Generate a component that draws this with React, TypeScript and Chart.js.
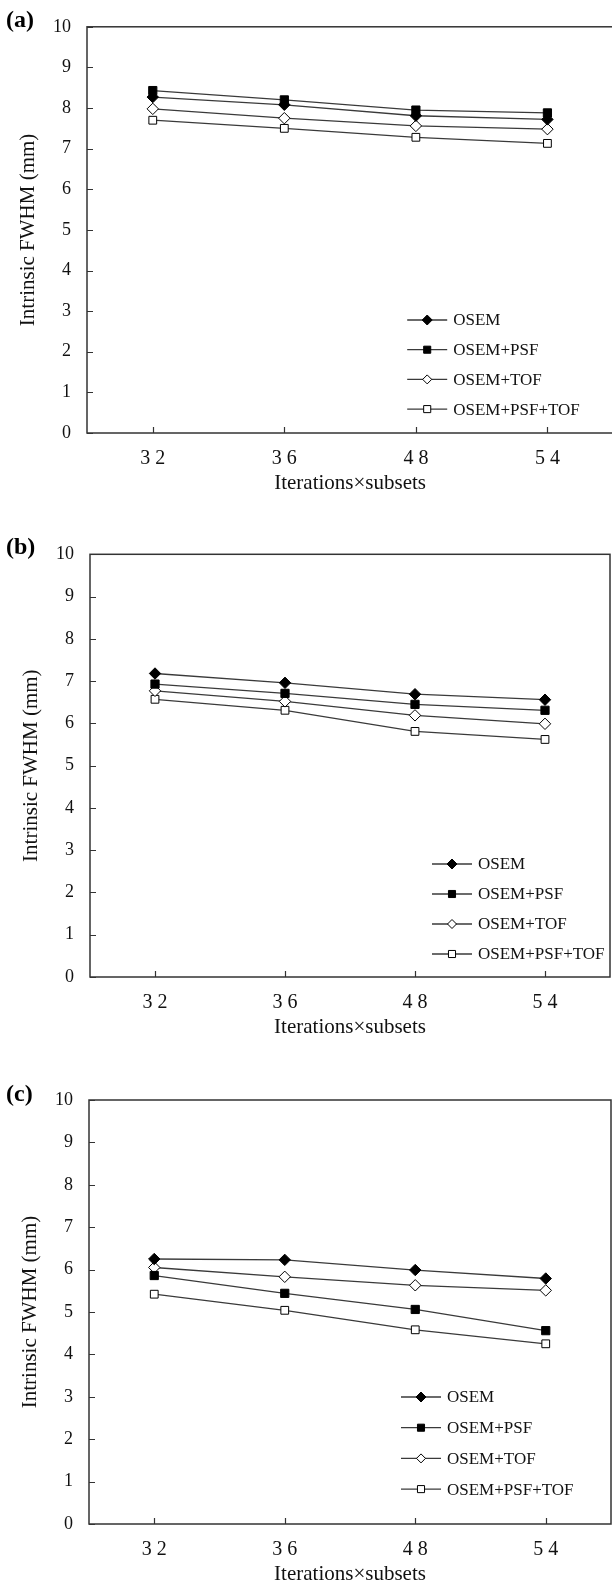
import React, { useEffect, useRef } from 'react';
import { Chart, registerables } from 'chart.js';

Chart.register(...registerables);

const categories = ['32', '36', '48', '54'];
const seriesNames = ['OSEM', 'OSEM+PSF', 'OSEM+TOF', 'OSEM+PSF+TOF'];
const yTicks = [0, 1, 2, 3, 4, 5, 6, 7, 8, 9, 10];

// Panel (a)
const osemA = [8.27, 8.08, 7.81, 7.72];
const psfA = [8.43, 8.2, 7.95, 7.88];
const tofA = [7.98, 7.75, 7.56, 7.48];
const psfTofA = [7.7, 7.5, 7.28, 7.13];
// Panel (b)
const osemB = [7.18, 6.96, 6.69, 6.56];
const psfB = [6.93, 6.71, 6.45, 6.31];
const tofB = [6.77, 6.52, 6.19, 5.99];
const psfTofB = [6.57, 6.31, 5.81, 5.62];
// Panel (c)
const osemC = [6.25, 6.23, 5.99, 5.79];
const psfC = [5.86, 5.44, 5.06, 4.56];
const tofC = [6.05, 5.83, 5.63, 5.51];
const psfTofC = [5.42, 5.04, 4.58, 4.25];

const FONT = '"Liberation Serif", "Times New Roman", serif';
const LINE = '#3a3a3a';
const FRAME = '#333333';

const markerStyles = [
  { pointStyle: 'rectRot', fill: '#000000', radius: 5.7, legendR: 5 },
  { pointStyle: 'rect', fill: '#000000', radius: 5.8, legendR: 5 },
  { pointStyle: 'rectRot', fill: '#ffffff', radius: 5.7, legendR: 4.5 },
  { pointStyle: 'rect', fill: '#ffffff', radius: 5.5, legendR: 5 },
];

function drawMarker(ctx, style, x, y, r) {
  ctx.beginPath();
  if (style.pointStyle === 'rectRot') {
    ctx.moveTo(x - r, y);
    ctx.lineTo(x, y - r);
    ctx.lineTo(x + r, y);
    ctx.lineTo(x, y + r);
    ctx.closePath();
  } else {
    const s = r * Math.SQRT1_2;
    ctx.rect(x - s, y - s, 2 * s, 2 * s);
  }
  ctx.fillStyle = style.fill;
  ctx.fill();
  ctx.lineWidth = 1;
  ctx.strokeStyle = '#000000';
  ctx.stroke();
}

const framePlugin = {
  id: 'frame',
  afterDraw(chart, _args, opts) {
    const { ctx, chartArea } = chart;
    const { left, right, top, bottom } = chartArea;
    const x = chart.scales.x;
    const y = chart.scales.y;
    ctx.save();
    // box
    ctx.strokeStyle = FRAME;
    ctx.lineWidth = 1.5;
    ctx.strokeRect(left, top, right - left, bottom - top);
    // inner ticks
    ctx.lineWidth = 1.2;
    ctx.beginPath();
    y.ticks.forEach((t) => {
      const py = Math.round(y.getPixelForValue(t.value)) + 0.5;
      ctx.moveTo(left, py);
      ctx.lineTo(left + 6, py);
    });
    x.ticks.forEach((_t, i) => {
      const px = Math.round(x.getPixelForTick(i)) + 0.5;
      ctx.moveTo(px, bottom);
      ctx.lineTo(px, bottom - 6);
    });
    ctx.stroke();
    // legend
    const lx0 = right + opts.legendLineX;
    const lx1 = lx0 + 40;
    ctx.font = '17px ' + FONT;
    ctx.textBaseline = 'middle';
    ctx.textAlign = 'left';
    chart.data.datasets.forEach((ds, i) => {
      const ly = bottom + opts.legendY + i * opts.legendGap;
      ctx.beginPath();
      ctx.strokeStyle = LINE;
      ctx.lineWidth = 1.3;
      ctx.moveTo(lx0, ly);
      ctx.lineTo(lx1, ly);
      ctx.stroke();
      drawMarker(ctx, markerStyles[i], (lx0 + lx1) / 2, ly, markerStyles[i].legendR);
      ctx.fillStyle = '#111111';
      ctx.fillText(ds.label, lx1 + 6, ly + 1);
    });
    // panel letter
    ctx.font = 'bold 24px ' + FONT;
    ctx.fillStyle = '#000000';
    ctx.textAlign = 'left';
    ctx.textBaseline = 'middle';
    ctx.fillText(opts.letter, 6, opts.letterY);
    ctx.restore();
  },
};

function PanelChart({ panel }) {
  const ref = useRef(null);
  useEffect(() => {
    const datasets = panel.series.map((vals, i) => ({
      label: seriesNames[i],
      data: vals,
      borderColor: LINE,
      borderWidth: 1.3,
      pointStyle: markerStyles[i].pointStyle,
      pointRadius: markerStyles[i].radius,
      pointBackgroundColor: markerStyles[i].fill,
      pointBorderColor: '#000000',
      pointBorderWidth: 1,
      tension: 0,
      fill: false,
    }));
    const chart = new Chart(ref.current, {
      type: 'line',
      data: { labels: categories, datasets },
      plugins: [framePlugin],
      options: {
        responsive: false,
        animation: false,
        devicePixelRatio: 1,
        events: [],
        layout: { padding: panel.padding },
        plugins: {
          legend: { display: false },
          tooltip: { enabled: false },
          frame: {
            letter: panel.letter,
            letterY: panel.letterY,
            legendLineX: panel.legendLineX,
            legendY: panel.legendY,
            legendGap: panel.legendGap,
          },
        },
        scales: {
          x: {
            type: 'category',
            offset: true,
            grid: { display: false, drawTicks: false },
            border: { display: false },
            ticks: {
              color: '#111111',
              font: { family: FONT, size: 20 },
              padding: 14,
              maxRotation: 0,
              callback: (_v, i) => categories[i].split('').join(' '),
            },
            title: {
              display: true,
              text: 'Iterations×subsets',
              color: '#111111',
              font: { family: FONT, size: 21 },
              padding: { top: 0, bottom: 0 },
            },
            afterFit: (s) => {
              s.height = 63;
            },
          },
          y: {
            min: 0,
            max: 10,
            afterBuildTicks: (axis) => {
              axis.ticks = yTicks.map((v) => ({ value: v }));
            },
            grid: { display: false, drawTicks: false },
            border: { display: false },
            ticks: {
              color: '#111111',
              font: { family: FONT, size: 18 },
              padding: 16,
            },
            title: {
              display: true,
              text: 'Intrinsic FWHM (mm)',
              color: '#111111',
              font: { family: FONT, size: 21 },
              padding: { top: 0, bottom: 0 },
            },
            afterFit: (s) => {
              s.width = 71;
            },
          },
        },
      },
    });
    return () => chart.destroy();
  }, [panel]);
  return (
    <canvas
      ref={ref}
      width={620}
      height={panel.height}
      style={{ position: 'absolute', left: 0, top: panel.top, width: 620, height: panel.height }}
    />
  );
}

const panels = [
  {
    letter: '(a)',
    top: 0,
    height: 520,
    padding: { left: 16, right: 2.2, top: 18.5, bottom: 24 },
    letterY: 20.5,
    legendLineX: -206,
    legendY: -113,
    legendGap: 29.7,
    series: [osemA, psfA, tofA, psfTofA],
  },
  {
    letter: '(b)',
    top: 520,
    height: 530,
    padding: { left: 19, right: 10, top: 34.3, bottom: 10 },
    letterY: 28,
    legendLineX: -178,
    legendY: -113,
    legendGap: 30,
    series: [osemB, psfB, tofB, psfTofB],
  },
  {
    letter: '(c)',
    top: 1050,
    height: 537,
    padding: { left: 18, right: 9, top: 50, bottom: 0 },
    letterY: 45,
    legendLineX: -210,
    legendY: -127,
    legendGap: 30.7,
    series: [osemC, psfC, tofC, psfTofC],
  },
];

export default function App() {
  return (
    <div
      style={{
        position: 'absolute',
        left: 0,
        top: 0,
        width: 612,
        height: 1587,
        overflow: 'hidden',
        background: '#ffffff',
      }}
    >
      {panels.map((p) => (
        <PanelChart key={p.letter} panel={p} />
      ))}
    </div>
  );
}
